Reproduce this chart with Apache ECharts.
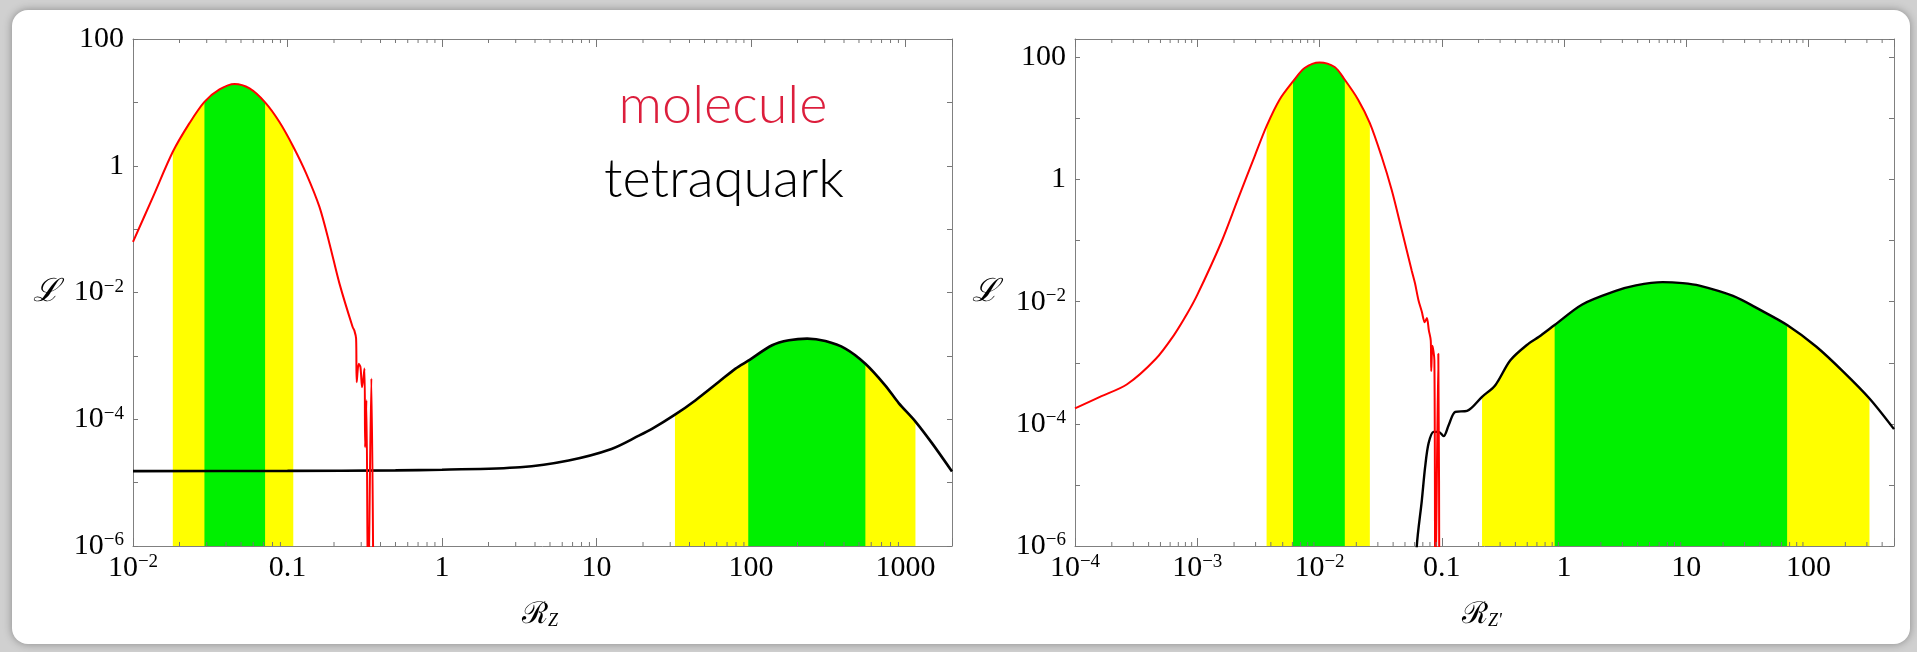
<!DOCTYPE html>
<html><head><meta charset="utf-8">
<script src="https://cdn.jsdelivr.net/npm/echarts@6/dist/echarts.min.js"></script>
<style>html,body{margin:0;padding:0;background:#d0d0d0;}#c{width:1917px;height:652px;}</style>
</head><body><div id="c"></div>
<script>
// ---------- data ----------
// Left panel: R_Z
const leftMoleculeX = [0.01, 0.01345, 0.0181, 0.0232, 0.029, 0.0363, 0.0454, 0.0568, 0.0716, 0.0887, 0.109, 0.132, 0.161, 0.187, 0.217, 0.264, 0.271, 0.278, 0.2805, 0.289, 0.2965, 0.304, 0.315, 0.318, 0.324, 0.3325, 0.349, 0.360];
const leftMoleculeY = [0.063, 0.32, 1.66, 4.7, 10.2, 16, 19.5, 16.6, 10, 4.9, 2.0, 0.76, 0.224, 0.059, 0.0138, 0.00285, 0.0025, 0.00187, 3.85e-4, 7.5e-4, 6.7e-4, 3.2e-4, 6.3e-4, 3.6e-5, 2.0e-4, 1e-7, 4.4e-4, 1e-7];
const leftTetraX = [0.01, 0.1, 0.5, 1, 3.2, 6.6, 12.5, 18.8, 23, 32.2, 43.8, 62, 79.4, 96, 137, 176, 231, 303, 408, 550, 741, 904, 1160, 1484, 2000];
const leftTetraY = [1.52e-5, 1.53e-5, 1.56e-5, 1.6e-5, 1.75e-5, 2.24e-5, 3.4e-5, 5.5e-5, 7.1e-5, 1.18e-4, 2.0e-4, 3.9e-4, 6.3e-4, 8.4e-4, 1.47e-3, 1.76e-3, 1.87e-3, 1.71e-3, 1.3e-3, 7.5e-4, 3.4e-4, 1.8e-4, 9.2e-5, 4.2e-5, 1.5e-5];
const leftMoleculeYellow = [0.0181, 0.109];
const leftMoleculeGreen = [0.029, 0.0716];
const leftTetraYellow = [32.2, 1160];
const leftTetraGreen = [96, 550];
const leftXRange = [0.01, 2000];
const leftYRange = [1e-6, 100];

// Right panel: R_Z'
const rightMoleculeX = [1e-4, 1.6e-4, 2.65e-4, 4.55e-4, 6.45e-4, 8.3e-4, 1.0e-3, 1.56e-3, 2.14e-3, 2.94e-3, 3.69e-3, 4.71e-3, 6.07e-3, 7.55e-3, 0.01, 0.0133, 0.0161, 0.0207, 0.0258, 0.0322, 0.0389, 0.047, 0.0568, 0.0604, 0.0644, 0.0686, 0.0726, 0.0755, 0.0784, 0.0813, 0.082, 0.0838, 0.087, 0.0886, 0.0937, 0.0955];
const rightMoleculeY = [1.79e-4, 2.77e-4, 4.4e-4, 1.14e-3, 2.84e-3, 6.45e-3, 0.0129, 0.0906, 0.465, 2.38, 7.5, 20.3, 40.4, 67, 82.8, 69.6, 43, 20.3, 8.4, 2.38, 0.678, 0.15, 0.032, 0.02, 0.0107, 6.9e-3, 4.6e-3, 5.4e-3, 3.4e-3, 2.3e-3, 7.3e-4, 1.9e-3, 1.1e-3, 1e-7, 1.4e-3, 1e-7];
const rightTetraX = [0.0605, 0.0625, 0.0687, 0.0731, 0.078, 0.0857, 0.0942, 0.1035, 0.1138, 0.129, 0.161, 0.2135, 0.274, 0.364, 0.516, 0.624, 0.838, 1.41, 2.65, 3.87, 6.4, 9.35, 12.8, 24.1, 39.9, 66.8, 116, 193, 315, 500];
const rightTetraY = [1e-7, 1e-6, 5.6e-6, 1.97e-5, 4.8e-5, 7.4e-5, 7.4e-5, 6.3e-5, 9.5e-5, 1.57e-4, 1.63e-4, 2.77e-4, 4.3e-4, 1.1e-3, 2.08e-3, 2.67e-3, 4.15e-3, 9.0e-3, 0.0150, 0.0185, 0.0209, 0.0201, 0.0183, 0.0124, 7.4e-3, 4.15e-3, 1.83e-3, 7.1e-4, 2.6e-4, 8.2e-5];
const rightMoleculeYellow = [3.69e-3, 0.0258];
const rightMoleculeGreen = [6.07e-3, 0.0161];
const rightTetraYellow = [0.2135, 315];
const rightTetraGreen = [0.838, 66.8];
const rightXRange = [1e-4, 500];
const rightYRange = [1e-6, 200];

const legendLabels = ['molecule', 'tetraquark'];
const yAxisTitle = 'ℒ';
const leftXTitle = ['ℛ', 'Z'];
const rightXTitle = ['ℛ', "Z'"];

// ---------- helpers ----------
const zip = (xs, ys) => xs.map((x, i) => [x, ys[i]]);
const inBand = (xs, ys, r) => zip(xs, ys).filter(p => p[0] >= r[0] * 0.999 && p[0] <= r[1] * 1.001);
const YELLOW = '#ffff00', GREEN = '#00f000';
const SMOOTH = 0.3;

function bandSeries(g, data, color) {
  return {type: 'line', xAxisIndex: 2 * g, yAxisIndex: 2 * g, data, smooth: SMOOTH, symbol: 'none', silent: true,
    lineStyle: {width: 0}, areaStyle: {color, opacity: 1, origin: 'start'}, z: 1};
}
function curveSeries(g, data, color, width, z) {
  return {type: 'line', xAxisIndex: 2 * g, yAxisIndex: 2 * g, data, smooth: SMOOTH, symbol: 'none', silent: true,
    clip: true, lineStyle: {color, width}, z};
}
function minorTickValues(range) {
  const out = [];
  const e0 = Math.floor(Math.log10(range[0])), e1 = Math.ceil(Math.log10(range[1]));
  for (let e = e0; e <= e1; e++) for (let k = 2; k <= 9; k++) {
    const v = k * Math.pow(10, e);
    if (v > range[0] && v < range[1]) out.push(v);
  }
  return out;
}
function minorTicks(g, xr, yr) {
  return {type: 'custom', xAxisIndex: 2 * g, yAxisIndex: 2 * g, silent: true, clip: false, z: 20,
    data: minorTickValues(xr).map(v => [v, yr[0]]),
    renderItem: (params, api) => {
      const v = api.value(0);
      const b = api.coord([v, yr[0]]), t = api.coord([v, yr[1]]);
      return {type: 'group', children: [
        {type: 'line', shape: {x1: b[0], y1: b[1], x2: b[0], y2: b[1] - 4}, style: {stroke: '#777', lineWidth: 1}},
        {type: 'line', shape: {x1: t[0], y1: t[1], x2: t[0], y2: t[1] + 4}, style: {stroke: '#777', lineWidth: 1}}
      ]};
    }};
}

const SERIF = '"Liberation Serif","Times New Roman",serif';
const rich = {
  b: {fontFamily: SERIF, fontSize: 30, color: '#000'},
  s: {fontFamily: SERIF, fontSize: 19, color: '#000', verticalAlign: 'top'}
};
function expOf(v) { const l = Math.log10(v); const e = Math.round(l); return Math.abs(l - e) < 1e-6 ? e : null; }
function xFmt(v) {
  const e = expOf(v); if (e === null) return '';
  if (e >= 0) return String(Math.pow(10, e));
  if (e === -1) return '0.1';
  return '{b|10}{s|−' + (-e) + '}';
}
function yFmt(v) {
  const e = expOf(v); if (e === null || e % 2 !== 0) return '';
  if (e === 2) return '100';
  if (e === 0) return '1';
  return '{b|10}{s|−' + (-e) + '}';
}
const AXCOL = '#808080';
function xAxes(g, r) {
  const base = {type: 'log', logBase: 10, gridIndex: g, min: r[0], max: r[1], splitNumber: 7,
    axisLine: {show: true, onZero: false, lineStyle: {color: AXCOL, width: 1}},
    axisTick: {show: true, inside: true, length: 8, lineStyle: {color: '#777'}},
    splitLine: {show: false}, minorTick: {show: false}};
  return [
    Object.assign({}, base, {position: 'bottom',
      axisLabel: {show: true, formatter: xFmt, rich, margin: 7, fontFamily: SERIF, fontSize: 30, color: '#000', showMinLabel: true, showMaxLabel: true, hideOverlap: false}}),
    Object.assign({}, base, {position: 'top', axisLabel: {show: false}})
  ];
}
function yAxes(g, r) {
  const base = {type: 'log', logBase: 10, gridIndex: g, min: r[0], max: r[1], splitNumber: 8,
    axisLine: {show: true, onZero: false, lineStyle: {color: AXCOL, width: 1}},
    axisTick: {show: true, inside: true, length: 5, lineStyle: {color: '#777'}},
    splitLine: {show: false}, minorTick: {show: false}};
  return [
    Object.assign({}, base, {position: 'left',
      axisLabel: {show: true, formatter: yFmt, rich, margin: 9, fontFamily: SERIF, fontSize: 30, color: '#000', showMinLabel: true, showMaxLabel: true, hideOverlap: false}}),
    Object.assign({}, base, {position: 'right', axisLabel: {show: false}})
  ];
}

const chart = echarts.init(document.getElementById('c'), null, {renderer: 'canvas'});
const option = {
  backgroundColor: '#d0d0d0',
  animation: false,
  grid: [
    {left: 133, top: 39, width: 819, height: 507, containLabel: false},
    {left: 1075, top: 39, width: 819, height: 507, containLabel: false}
  ],
  xAxis: [...xAxes(0, leftXRange), ...xAxes(1, rightXRange)],
  yAxis: [...yAxes(0, leftYRange), ...yAxes(1, rightYRange)],
  series: [
    bandSeries(0, inBand(leftMoleculeX, leftMoleculeY, leftMoleculeYellow), YELLOW),
    bandSeries(0, inBand(leftMoleculeX, leftMoleculeY, leftMoleculeGreen), GREEN),
    bandSeries(0, inBand(leftTetraX, leftTetraY, leftTetraYellow), YELLOW),
    bandSeries(0, inBand(leftTetraX, leftTetraY, leftTetraGreen), GREEN),
    curveSeries(0, zip(leftTetraX, leftTetraY), '#000', 2.6, 5),
    curveSeries(0, zip(leftMoleculeX, leftMoleculeY), '#ff0000', 2, 6),
    minorTicks(0, leftXRange, leftYRange),
    bandSeries(1, inBand(rightMoleculeX, rightMoleculeY, rightMoleculeYellow), YELLOW),
    bandSeries(1, inBand(rightMoleculeX, rightMoleculeY, rightMoleculeGreen), GREEN),
    bandSeries(1, inBand(rightTetraX, rightTetraY, rightTetraYellow), YELLOW),
    bandSeries(1, inBand(rightTetraX, rightTetraY, rightTetraGreen), GREEN),
    curveSeries(1, zip(rightTetraX, rightTetraY), '#000', 2.4, 5),
    curveSeries(1, zip(rightMoleculeX, rightMoleculeY), '#ff0000', 2, 6),
    minorTicks(1, rightXRange, rightYRange)
  ],
  graphic: [
    {type: 'rect', z: -100, silent: true, shape: {x: 12, y: 10, width: 1898, height: 634, r: 16},
      style: {fill: '#ffffff', shadowBlur: 8, shadowColor: 'rgba(0,0,0,0.35)'}},
    {type: 'text', z: 50, x: 723, y: 106, silent: true,
      style: {text: legendLabels[0], fill: '#dc1e3c', font: '300 54px Lato', textAlign: 'center', textVerticalAlign: 'middle'}},
    {type: 'text', z: 50, x: 724, y: 180, silent: true,
      style: {text: legendLabels[1], fill: '#000', font: '300 54px Lato', textAlign: 'center', textVerticalAlign: 'middle'}},
    {type: 'text', z: 50, x: 46, y: 293, silent: true,
      style: {text: yAxisTitle, fill: '#000', font: 'italic 32px "DejaVu Serif"', textAlign: 'center', textVerticalAlign: 'middle'}},
    {type: 'text', z: 50, x: 985, y: 293, silent: true,
      style: {text: yAxisTitle, fill: '#000', font: 'italic 32px "DejaVu Serif"', textAlign: 'center', textVerticalAlign: 'middle'}},
    {type: 'text', z: 50, x: 540, y: 615, silent: true,
      style: {text: '{r|' + leftXTitle[0] + '}{z|' + leftXTitle[1] + '}', textAlign: 'center', textVerticalAlign: 'middle',
        rich: {r: {font: '30px "DejaVu Serif"', fill: '#000'}, z: {font: 'italic 18px ' + SERIF, fill: '#000', verticalAlign: 'bottom'}}}},
    {type: 'text', z: 50, x: 1482, y: 615, silent: true,
      style: {text: '{r|' + rightXTitle[0] + '}{z|' + rightXTitle[1] + '}', textAlign: 'center', textVerticalAlign: 'middle',
        rich: {r: {font: '30px "DejaVu Serif"', fill: '#000'}, z: {font: 'italic 18px ' + SERIF, fill: '#000', verticalAlign: 'bottom'}}}}
  ]
};
chart.setOption(option);
</script></body></html>
